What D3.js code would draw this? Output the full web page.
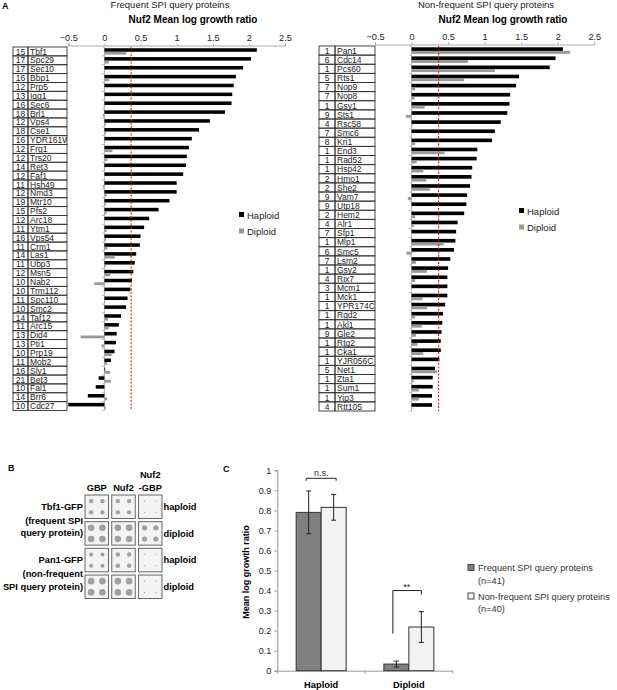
<!DOCTYPE html>
<html lang="en">
<head>
<meta charset="utf-8">
<title>Nuf2 SPI figure</title>
<script src="https://cdn.jsdelivr.net/npm/d3@7"></script>
<style>
  body { margin: 0; background: #fff; }
  svg { font-family: "Liberation Sans", Arial, sans-serif; }
</style>
</head>
<body>
<script>
// ---- data, panel A ----
var freqNames = ["Tbf1","Spc29","Sec10","Bbp1","Prp5","Iqg1","Sec6","Brl1","Vps4","Cse1","YDR161W","Frg1","Trs20","Ret3","Faf1","Hsh49","Nmd3","Mtr10","Pfs2","Arc18","Ytm1","Vps54","Crm1","Las1","Ubp3","Msn5","Nab2","Trm112","Spc110","Smc2","Taf12","Arc15","Did4","Pti1","Prp19","Mob2","Sly1","Bet3","Fal1","Brr6","Cdc27"];
var freqCounts = [15,17,17,16,12,13,16,18,12,18,16,12,12,14,12,11,12,19,15,12,11,16,11,14,11,12,10,10,11,10,14,11,13,13,10,11,16,21,10,14,10];
var freqHaploid = [2.11,2.03,1.92,1.82,1.79,1.77,1.76,1.67,1.46,1.31,1.21,1.17,1.14,1.13,1.09,1.0,1.0,0.9,0.75,0.62,0.55,0.5,0.49,0.44,0.42,0.4,0.38,0.36,0.32,0.3,0.23,0.2,0.17,0.16,0.14,0.09,0.01,-0.08,-0.12,-0.23,-0.5];
var freqDiploid = [0.3,0.06,0.01,0.065,0.01,0.01,-0.01,-0.02,0.02,0.02,0.01,0.11,0.04,0.01,0.0,-0.02,0.03,0.02,0.03,0.0,0.03,0.02,0.04,0.14,0.02,0.08,-0.14,0.0,0.01,0.0,0.05,0.06,-0.33,-0.04,0.1,0.04,0.08,0.09,0.0,0.04,0.02];

var nonNames = ["Pan1","Cdc14","Pcs60","Rts1","Nop9","Nop8","Gsy1","Sts1","Rsc58","Smc6","Kri1","End3","Rad52","Hsp42","Hmo1","She2","Vam7","Utp18","Hem2","Alr1","Sfp1","Mlp1","Smc5","Lsm2","Gsy2","Rix7","Mcm1","Mck1","YPR174C","Rgd2","Akl1","Gle2","Rtg2","Cka1","YJR056C","Net1","Zta1","Sum1","Yip3","Rtt105"];
var nonCounts = [1,6,1,5,7,7,1,9,4,7,8,1,1,1,2,2,9,9,2,4,7,1,6,7,1,4,3,1,1,1,1,9,1,1,1,5,1,1,1,4];
var nonHaploid = [2.07,1.97,1.89,1.47,1.43,1.35,1.34,1.31,1.22,1.14,1.1,0.9,0.89,0.83,0.82,0.8,0.76,0.75,0.72,0.63,0.61,0.6,0.58,0.53,0.5,0.49,0.49,0.49,0.46,0.43,0.42,0.41,0.4,0.4,0.38,0.32,0.29,0.29,0.28,0.28];
var nonDiploid = [2.17,0.77,1.14,0.72,0.05,0.04,0.18,-0.08,0.01,0.0,0.05,0.45,0.07,0.16,0.2,0.25,-0.05,0.0,0.05,0.03,0.0,0.44,-0.07,0.06,0.21,0.05,0.0,0.15,0.21,0.05,0.14,0.06,0.08,0.16,0.0,0.35,0.03,0.1,0.1,0.01];

var threshold = 0.37;
var growthTicks = [-0.5, 0, 0.5, 1, 1.5, 2, 2.5];

// ---- data, panel B (spot radius per strain row / plasmid column) ----
var spotColumns = ["GBP", "Nuf2", "Nuf2-GBP"];
var spotRows = ["Tbf1 haploid", "Tbf1 diploid", "Pan1 haploid", "Pan1 diploid"];
var spotRadius = [
  [2.2, 2.2, 0.6],
  [3.3, 3.3, 2.6],
  [2.0, 2.2, 0.5],
  [3.3, 3.3, 0.6]
];

// ---- data, panel C ----
var ploidy = ["Haploid", "Diploid"];
var groups = ["Frequent SPI query proteins", "Non-frequent SPI query proteins"];
var groupN = [41, 40];
var meanFreq = [0.79, 0.033];
var meanNon = [0.815, 0.218];
var errFreq = [0.107, 0.015];
var errNon = [0.064, 0.077];
var signif = ["n.s.", "**"];

var svg = d3.select("body").append("svg")
  .attr("width", 617)
  .attr("height", 690);

// ================= Panel A =================
function drawPanelA(o) {
  var g = svg.append("g");
  var x = d3.scaleLinear().domain([-0.5, 2.5]).range([o.x0, o.x1]);
  var y = d3.scaleBand().domain(o.names).range([o.top, o.bottom]);
  var rowH = y.bandwidth();

  g.append("text").attr("x", o.titleX).attr("y", 8)
    .attr("text-anchor", "middle").attr("font-size", "9.5px").attr("fill", "#222")
    .text(o.title);
  g.append("text").attr("x", o.subX).attr("y", 23)
    .attr("text-anchor", "middle").attr("font-size", "10px").attr("font-weight", "bold")
    .text("Nuf2 Mean log growth ratio");

  // top axis
  var ax = g.append("g").attr("transform", "translate(0," + (o.top - 1.5) + ")")
    .call(d3.axisTop(x).tickValues(growthTicks).tickSize(2).tickFormat(d3.format("")));
  ax.select(".domain").attr("stroke", "#aaa");
  ax.selectAll(".tick line").attr("stroke", "#aaa");
  ax.selectAll(".tick text").attr("font-size", "9.2px").attr("fill", "#222")
    .attr("font-family", "Liberation Sans, Arial, sans-serif");

  // table
  var clipId = "clip" + o.id;
  svg.append("clipPath").attr("id", clipId).append("rect")
    .attr("x", o.numX1).attr("y", o.top).attr("width", o.tabX1 - o.numX1).attr("height", o.bottom - o.top);

  var rows = g.selectAll(".row").data(o.names).enter().append("g");
  rows.append("rect").attr("x", o.tabX0).attr("y", function(d) { return y(d); })
    .attr("width", o.numX1 - o.tabX0).attr("height", rowH)
    .attr("fill", "none").attr("stroke", "#333").attr("stroke-width", 0.9);
  rows.append("rect").attr("x", o.numX1).attr("y", function(d) { return y(d); })
    .attr("width", o.tabX1 - o.numX1).attr("height", rowH)
    .attr("fill", "none").attr("stroke", "#333").attr("stroke-width", 0.9);
  rows.append("text")
    .attr("x", (o.tabX0 + o.numX1) / 2)
    .attr("y", function(d) { return y(d) + rowH - 1.3; })
    .attr("text-anchor", "middle").attr("font-size", "8.5px").attr("fill", "#222")
    .text(function(d, i) { return o.counts[i]; });
  g.append("g").attr("clip-path", "url(#" + clipId + ")")
    .selectAll("text").data(o.names).enter().append("text")
    .attr("x", o.numX1 + 2)
    .attr("y", function(d) { return y(d) + rowH - 1.3; })
    .attr("font-size", "8.5px").attr("fill", "#222")
    .text(function(d) { return d; });

  // zero axis with row ticks
  g.append("line").attr("x1", x(0)).attr("x2", x(0)).attr("y1", o.top).attr("y2", o.bottom)
    .attr("stroke", "#aaa").attr("stroke-width", 0.8);
  g.selectAll(".rtick").data(o.names.concat(["_end"])).enter().append("line")
    .attr("x1", x(0) - 2.5).attr("x2", x(0))
    .attr("y1", function(d, i) { return o.top + i * rowH; })
    .attr("y2", function(d, i) { return o.top + i * rowH; })
    .attr("stroke", "#aaa").attr("stroke-width", 0.8);

  // bars
  g.selectAll(".hap").data(o.haploid).enter().append("rect")
    .attr("x", function(d) { return Math.min(x(0), x(d)); })
    .attr("width", function(d) { return Math.abs(x(d) - x(0)); })
    .attr("y", function(d, i) { return y(o.names[i]) + rowH * 0.14; })
    .attr("height", rowH * 0.4)
    .attr("fill", "#000");
  g.selectAll(".dip").data(o.diploid).enter().append("rect")
    .attr("x", function(d) { return Math.min(x(0), x(d)); })
    .attr("width", function(d) { return Math.abs(x(d) - x(0)); })
    .attr("y", function(d, i) { return y(o.names[i]) + rowH * 0.54; })
    .attr("height", rowH * 0.32)
    .attr("fill", "#999");

  // threshold
  g.append("line").attr("x1", x(threshold)).attr("x2", x(threshold))
    .attr("y1", o.top).attr("y2", o.bottom)
    .attr("stroke", "#d7191c").attr("stroke-width", 1.1).attr("stroke-dasharray", "2,1.6");

  // legend
  var leg = g.append("g").attr("transform", "translate(" + o.legX + "," + o.legY + ")");
  [["Haploid", "#000"], ["Diploid", "#999"]].forEach(function(l, i) {
    leg.append("rect").attr("x", 0).attr("y", i * 16.5 - 3).attr("width", 5).attr("height", 5).attr("fill", l[1]);
    leg.append("text").attr("x", 8).attr("y", i * 16.5 + 3.5).attr("font-size", "9.5px").attr("fill", "#222").text(l[0]);
  });
}

drawPanelA({ id: "L", names: freqNames, counts: freqCounts, haploid: freqHaploid, diploid: freqDiploid,
  x0: 68.3, x1: 285, top: 47, bottom: 410.5, tabX0: 13, numX1: 28, tabX1: 67,
  title: "Frequent SPI query proteins", titleX: 170, subX: 193, legX: 239, legY: 215 });
drawPanelA({ id: "R", names: nonNames, counts: nonCounts, haploid: nonHaploid, diploid: nonDiploid,
  x0: 375, x1: 594.3, top: 46, bottom: 411, tabX0: 319, numX1: 335, tabX1: 375,
  title: "Non-frequent SPI query proteins", titleX: 486, subX: 503, legX: 519, legY: 211 });

svg.append("text").attr("x", 2).attr("y", 9).attr("font-size", "9px").attr("font-weight", "bold").text("A");

// ================= Panel B =================
var gB = svg.append("g");
gB.append("text").attr("x", 8).attr("y", 471).attr("font-size", "9px").attr("font-weight", "bold").text("B");
var colX = d3.scaleBand().domain(spotColumns).range([85, 162]).paddingInner(0.12);
var rowY = d3.scaleBand().domain(spotRows).range([495, 598.5]).paddingInner(0.12);
var boxW = colX.bandwidth(), boxH = rowY.bandwidth();

gB.append("text").attr("x", colX("GBP") + boxW / 2).attr("y", 491).attr("text-anchor", "middle")
  .attr("font-size", "9.3px").attr("font-weight", "bold").text("GBP");
gB.append("text").attr("x", colX("Nuf2") + boxW / 2).attr("y", 491).attr("text-anchor", "middle")
  .attr("font-size", "9.3px").attr("font-weight", "bold").text("Nuf2");
gB.append("text").attr("x", colX("Nuf2-GBP") + boxW / 2).attr("y", 478).attr("text-anchor", "middle")
  .attr("font-size", "9.3px").attr("font-weight", "bold").text("Nuf2");
gB.append("text").attr("x", colX("Nuf2-GBP") + boxW / 2).attr("y", 491).attr("text-anchor", "middle")
  .attr("font-size", "9.3px").attr("font-weight", "bold").text("-GBP");

spotRows.forEach(function(r, ri) {
  spotColumns.forEach(function(c, ci) {
    var bx = colX(c), by = rowY(r);
    gB.append("rect").attr("x", bx).attr("y", by).attr("width", boxW).attr("height", boxH)
      .attr("fill", "#f3f3f3").attr("stroke", "#666").attr("stroke-width", 1);
    [[0.26, 0.26], [0.74, 0.26], [0.26, 0.74], [0.74, 0.74]].forEach(function(p) {
      gB.append("circle").attr("cx", bx + p[0] * boxW).attr("cy", by + p[1] * boxH)
        .attr("r", spotRadius[ri][ci]).attr("fill", "#a0a0a0");
    });
  });
  gB.append("text").attr("x", 163.5).attr("y", rowY(r) + boxH / 2 + 3.3)
    .attr("font-size", "9.3px").attr("font-weight", "bold").text(r.split(" ")[1]);
});

var leftLabels = [["Tbf1-GFP", 510], ["(frequent SPI", 524], ["query protein)", 536],
  ["Pan1-GFP", 563], ["(non-frequent", 577], ["SPI query protein)", 590]];
gB.selectAll(".ll").data(leftLabels).enter().append("text")
  .attr("x", 83).attr("y", function(d) { return d[1]; })
  .attr("text-anchor", "end").attr("font-size", "9.3px").attr("font-weight", "bold")
  .text(function(d) { return d[0]; });

// ================= Panel C =================
var gC = svg.append("g");
gC.append("text").attr("x", 223).attr("y", 472).attr("font-size", "9px").attr("font-weight", "bold").text("C");

var yC = d3.scaleLinear().domain([0, 1]).range([670.7, 470.3]);
var xC = d3.scaleBand().domain(ploidy).range([277.3, 452.7]);
var xG = d3.scaleBand().domain(groups).range([xC.bandwidth() / 2 - 25, xC.bandwidth() / 2 + 25]);

var yAx = gC.append("g").attr("transform", "translate(277.3,0)")
  .call(d3.axisLeft(yC).tickValues(d3.range(0, 1.01, 0.1)).tickSize(3)
    .tickFormat(function(d) { return d3.format(".1~f")(d); }));
yAx.select(".domain").attr("stroke", "#999");
yAx.selectAll(".tick line").attr("stroke", "#999");
yAx.selectAll(".tick text").attr("font-size", "9px").attr("fill", "#222")
  .attr("font-family", "Liberation Sans, Arial, sans-serif");

var xAx = gC.append("g").attr("transform", "translate(0,670.7)")
  .call(d3.axisBottom(xC).tickSize(0).tickFormat(""));
xAx.select(".domain").attr("stroke", "#999");
[277.3, xC("Diploid"), 452.7].forEach(function(t) {
  gC.append("line").attr("x1", t).attr("x2", t).attr("y1", 670.7).attr("y2", 673.5).attr("stroke", "#999");
});

gC.selectAll(".plab").data(ploidy).enter().append("text")
  .attr("x", function(d) { return xC(d) + xC.bandwidth() / 2; })
  .attr("y", 688).attr("text-anchor", "middle")
  .attr("font-size", "9.3px").attr("font-weight", "bold")
  .text(function(d) { return d; });

gC.append("text").attr("transform", "translate(249,572) rotate(-90)")
  .attr("text-anchor", "middle").attr("font-size", "9px").attr("font-weight", "bold")
  .text("Mean log growth ratio");

var barData = [];
ploidy.forEach(function(p, i) {
  barData.push({ p: p, grp: groups[0], v: meanFreq[i], e: errFreq[i], fill: "#808080" });
  barData.push({ p: p, grp: groups[1], v: meanNon[i], e: errNon[i], fill: "#f2f2f2" });
});

gC.selectAll(".bar").data(barData).enter().append("rect")
  .attr("x", function(d) { return xC(d.p) + xG(d.grp); })
  .attr("y", function(d) { return yC(d.v); })
  .attr("width", xG.bandwidth())
  .attr("height", function(d) { return yC(0) - yC(d.v); })
  .attr("fill", function(d) { return d.fill; })
  .attr("stroke", "#333").attr("stroke-width", 1);

var eb = gC.selectAll(".err").data(barData).enter().append("g")
  .attr("transform", function(d) { return "translate(" + (xC(d.p) + xG(d.grp) + xG.bandwidth() / 2) + ",0)"; });
eb.append("line").attr("y1", function(d) { return yC(d.v + d.e); }).attr("y2", function(d) { return yC(d.v - d.e); })
  .attr("stroke", "#222").attr("stroke-width", 1);
eb.append("line").attr("x1", -2.5).attr("x2", 2.5)
  .attr("y1", function(d) { return yC(d.v + d.e); }).attr("y2", function(d) { return yC(d.v + d.e); })
  .attr("stroke", "#222").attr("stroke-width", 1);
eb.append("line").attr("x1", -2.5).attr("x2", 2.5)
  .attr("y1", function(d) { return yC(d.v - d.e); }).attr("y2", function(d) { return yC(d.v - d.e); })
  .attr("stroke", "#222").attr("stroke-width", 1);

// significance brackets
var cxH = xC("Haploid") + xC.bandwidth() / 2, cxD = xC("Diploid") + xC.bandwidth() / 2;
var bH = yC(1) + 8;
gC.append("path").attr("d", "M" + (cxH - 15) + "," + (bH + 2.5) + "V" + bH + "H" + (cxH + 15) + "V" + (bH + 2.5))
  .attr("fill", "none").attr("stroke", "#222").attr("stroke-width", 1);
gC.append("text").attr("x", cxH).attr("y", bH - 2).attr("text-anchor", "middle")
  .attr("font-size", "9px").attr("fill", "#222").text(signif[0]);
var bD = yC(0.4);
gC.append("path").attr("d", "M" + (cxD - 16) + "," + yC(0.185) + "V" + bD + "H" + (cxD + 12.5) + "V" + yC(0.38))
  .attr("fill", "none").attr("stroke", "#222").attr("stroke-width", 1);
gC.append("text").attr("x", cxD - 2).attr("y", bD - 1).attr("text-anchor", "middle")
  .attr("font-size", "9px").attr("fill", "#222").text(signif[1]);

// legend C
var legC = gC.append("g").attr("transform", "translate(468,564.5)");
groups.forEach(function(gname, i) {
  legC.append("rect").attr("x", 0).attr("y", i * 28.5).attr("width", 6).attr("height", 6)
    .attr("fill", i === 0 ? "#808080" : "#f2f2f2").attr("stroke", "#333").attr("stroke-width", 0.9);
  legC.append("text").attr("x", 10).attr("y", i * 28.5 + 6.5).attr("font-size", "9.2px").attr("fill", "#333").text(gname);
  legC.append("text").attr("x", 10).attr("y", i * 28.5 + 19).attr("font-size", "9.2px").attr("fill", "#333").text("(n=" + groupN[i] + ")");
});
</script>
</body>
</html>
